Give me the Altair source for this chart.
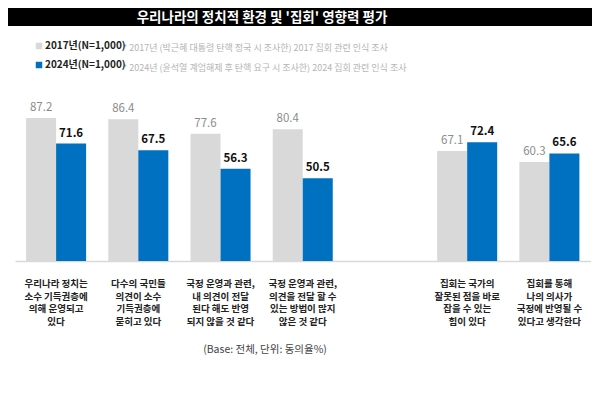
import altair as alt
import pandas as pd

FONT = "Noto Sans CJK KR"

title_text = "우리나라의 정치적 환경 및 '집회' 영향력 평가"
years = ["2017년(N=1,000)", "2024년(N=1,000)"]
notes = [
    "* 2017년 (박근혜 대통령 탄핵 정국 시 조사한) 2017 집회 관련 인식 조사",
    "* 2024년 (윤석열 계엄해제 후 탄핵 요구 시 조사한) 2024 집회 관련 인식 조사",
]
categories = [
    "우리나라 정치는\n소수 기득권층에\n의해 운영되고\n있다",
    "다수의 국민들\n의견이 소수\n기득권층에\n묻히고 있다",
    "국정 운영과 관련,\n내 의견이 전달\n된다 해도 반영\n되지 않을 것 같다",
    "국정 운영과 관련,\n의견을 전달 할 수\n있는 방법이 많지\n않은 것 같다",
    "집회는 국가의\n잘못된 점을 바로\n잡을 수 있는\n힘이 있다",
    "집회를 통해\n나의 의사가\n국정에 반영될 수\n있다고 생각한다",
]
values_2017 = [87.2, 86.4, 77.6, 80.4, 67.1, 60.3]
values_2024 = [71.6, 67.5, 56.3, 50.5, 72.4, 65.6]
footnote = "(Base: 전체, 단위: 동의율%)"

GAP = " "
x_domain = categories[:4] + [GAP] + categories[4:]

rows = []
for c, a, b in zip(categories, values_2017, values_2024):
    rows.append({"cat": c, "year": years[0], "value": a})
    rows.append({"cat": c, "year": years[1], "value": b})
df = pd.DataFrame(rows)
cat_df = pd.DataFrame({"cat": categories})

W, H = 584, 253
PAD_BOTTOM = 124

x_scale = alt.Scale(domain=x_domain, range=[7, 582.5], paddingInner=0.27, paddingOuter=0.135)
y_scale = alt.Scale(domain=[0, 100], range=[253, 89])
color_scale = alt.Scale(domain=years, range=["#D9D9D9", "#0070C0"])

X = alt.X("cat:N", scale=x_scale, sort=x_domain,
          axis=alt.Axis(labels=False, ticks=False, title=None, domainColor="#D9D9D9",
                        domainWidth=1.5, grid=False))
XO = alt.XOffset("year:N", scale=alt.Scale(domain=years, paddingInner=0, paddingOuter=0))
Y = alt.Y("value:Q", scale=y_scale, axis=None)

base = alt.Chart(df)

bars = base.mark_bar().encode(
    x=X, xOffset=XO, y=Y,
    color=alt.Color("year:N", scale=color_scale,
                    legend=alt.Legend(orient="none", legendX=26, legendY=33, title=None,
                                      symbolType="square", symbolSize=42, symbolStrokeWidth=0,
                                      labelFont=FONT, labelFontSize=10, labelFontWeight="bold",
                                      labelColor="#222222", labelOffset=1, rowPadding=9,
                                      padding=0, direction="vertical")),
)

lab17 = base.transform_filter(alt.datum.year == years[0]).mark_text(
    baseline="bottom", dy=-5, font=FONT, fontSize=11.5, color="#8C8C8C"
).encode(x=X, xOffset=XO, y=Y, text=alt.Text("value:Q", format=".1f"))

lab24 = base.transform_filter(alt.datum.year == years[1]).mark_text(
    baseline="bottom", dy=-5, font=FONT, fontSize=11.5, fontWeight="bold", color="#111111"
).encode(x=X, xOffset=XO, y=Y, text=alt.Text("value:Q", format=".1f"))

cat_labels = alt.Chart(cat_df).mark_text(
    baseline="middle", lineBreak="\n", lineHeight=12.6, font=FONT, fontSize=9.5,
    fontWeight="bold", color="#222222"
).encode(x=alt.X("cat:N", scale=x_scale, sort=x_domain), y=alt.value(276), text="cat:N")

title_df = pd.DataFrame({"t": [title_text]})
title_bar = alt.Chart(title_df).mark_rect(color="#000000").encode(
    x=alt.value(0), x2=alt.value(W), y=alt.value(0), y2=alt.value(18))
title_txt = alt.Chart(title_df).mark_text(
    font=FONT, fontSize=13.5, fontWeight="bold", color="#FFFFFF", baseline="middle", align="center"
).encode(x=alt.value(254), y=alt.value(9.5), text="t:N")

note1 = alt.Chart(pd.DataFrame({"t": [notes[0]]})).mark_text(
    font=FONT, fontSize=9, color="#B4B4B4", align="left", baseline="middle"
).encode(x=alt.value(115), y=alt.value(40), text="t:N")
note2 = alt.Chart(pd.DataFrame({"t": [notes[1]]})).mark_text(
    font=FONT, fontSize=9, color="#B4B4B4", align="left", baseline="middle"
).encode(x=alt.value(115), y=alt.value(60), text="t:N")

foot = alt.Chart(pd.DataFrame({"t": [footnote]})).mark_text(
    font=FONT, fontSize=10.5, color="#444444", align="center", baseline="middle"
).encode(x=alt.value(257), y=alt.value(342), text="t:N")

chart = alt.layer(title_bar, title_txt, bars, lab17, lab24, cat_labels, note1, note2, foot).properties(
    width=W, height=H, autosize=alt.AutoSizeParams(type="none"),
    padding={"left": 0, "top": 0, "right": 0, "bottom": PAD_BOTTOM}, background="#FFFFFF"
).configure_view(stroke=None)

chart.save("out.html", embed_options={"renderer": "svg", "actions": False})
